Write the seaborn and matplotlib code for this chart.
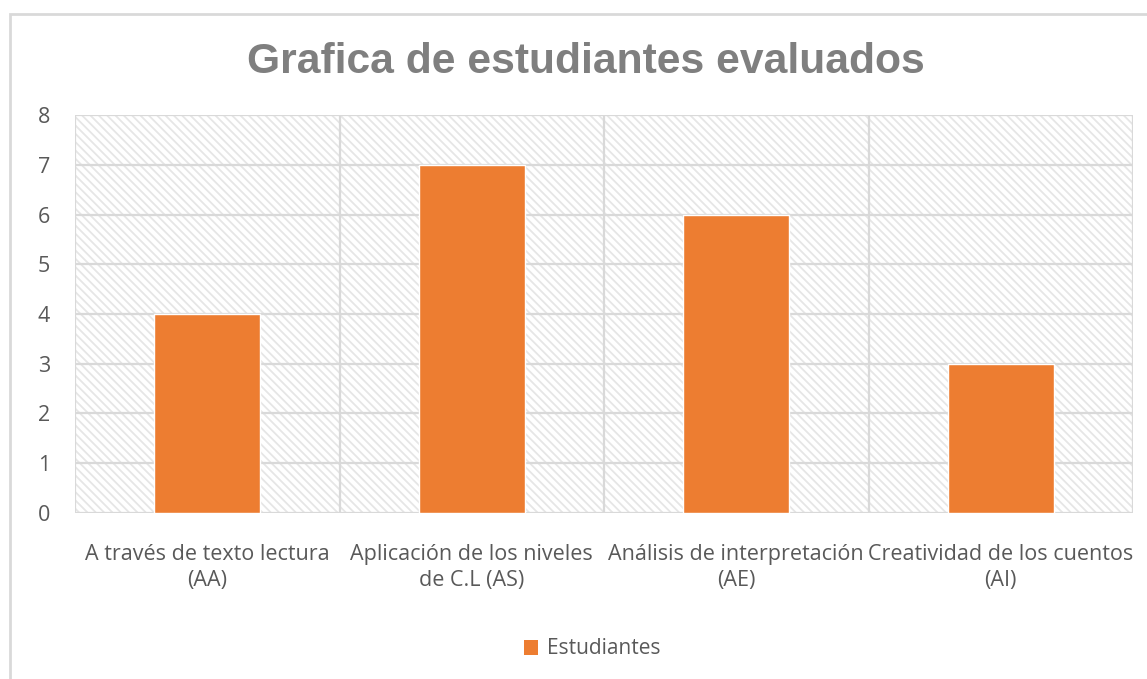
import matplotlib
matplotlib.use("Agg")
import pandas as pd
import seaborn as sns
import matplotlib.pyplot as plt
from matplotlib.patches import Rectangle, Patch

categories = [
    "A través de texto lectura\n(AA)",
    "Aplicación de los niveles\nde C.L (AS)",
    "Análisis de interpretación\n(AE)",
    "Creatividad de los cuentos\n(AI)",
]
estudiantes = [4, 7, 6, 3]
y_ticks = [0, 1, 2, 3, 4, 5, 6, 7, 8]

df = pd.DataFrame({"categoria": categories, "Estudiantes": estudiantes})

sns.set_style("white")
plt.rcParams["font.family"] = ["Open Sans", "DejaVu Sans"]
plt.rcParams["hatch.linewidth"] = 1.3
plt.rcParams["hatch.color"] = "#e6e6e6"

text_gray = "#595959"
grid_gray = "#d9d9d9"
orange = "#ed7d31"

fig = plt.figure(figsize=(11.47, 6.79), dpi=100)
ax = fig.add_axes([0.0654, 0.2445, 0.9224, 0.5861])

# outer chart frame
fig.patches.append(Rectangle((10 / 1147, -0.05), 1.2, 1 - 14 / 679 + 0.05,
                             transform=fig.transFigure, fill=False,
                             edgecolor=grid_gray, linewidth=2, zorder=0))

# hatched plot area background
ax.add_patch(Rectangle((0, 0), 1, 1, transform=ax.transAxes, facecolor="white",
                       hatch="\\\\\\\\", edgecolor="#e6e6e6", linewidth=0, zorder=0))

sns.barplot(data=df, x="categoria", y="Estudiantes", color=orange,
            width=0.4, saturation=1, ax=ax, zorder=3)

ax.set_ylim(0, 8)
ax.set_xlim(-0.5, 3.5)
ax.set_yticks(y_ticks)
for y in y_ticks:
    ax.axhline(y, color=grid_gray, linewidth=1.6, zorder=1)
for x in [-0.5, 0.5, 1.5, 2.5, 3.5]:
    ax.axvline(x, color=grid_gray, linewidth=1.6, zorder=1)

for s in ax.spines.values():
    s.set_visible(False)

ax.tick_params(axis="both", length=0, colors=text_gray, labelsize=15.5)
ax.tick_params(axis="x", pad=22)
ax.tick_params(axis="y", pad=18)
for lbl in ax.get_xticklabels():
    lbl.set_linespacing(1.35)
ax.set_xlabel("")
ax.set_ylabel("")

fig.text(0.511, 1 - 62 / 679, "Grafica de estudiantes evaluados", ha="center",
         va="center", fontsize=30.7, fontweight="bold", color="#7f7f7f",
         family=["Liberation Sans", "DejaVu Sans"])

handles = [Patch(facecolor=orange, edgecolor="none", label="Estudiantes")]
fig.legend(handles=handles, loc="center", bbox_to_anchor=(0.516, 1 - 649 / 679),
           frameon=False, fontsize=15, handlelength=0.7, handleheight=0.7,
           handletextpad=0.4, labelcolor=text_gray)

fig.savefig("out.png", dpi=100)
